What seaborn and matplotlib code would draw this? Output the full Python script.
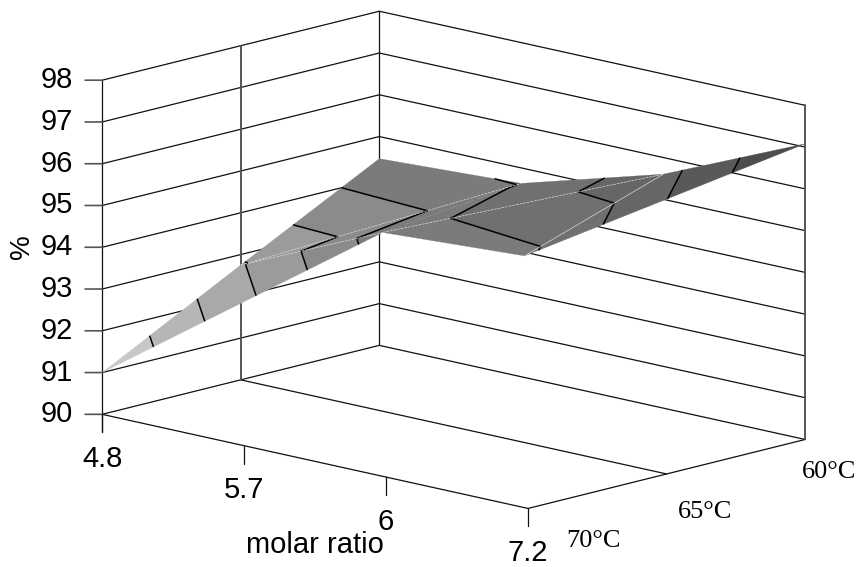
import numpy as np
import seaborn as sns
import matplotlib.pyplot as plt
import matplotlib.tri as mtri
from mpl_toolkits.mplot3d import proj3d
from mpl_toolkits.mplot3d.art3d import Poly3DCollection

molar_ratio = ["4.8", "5.7", "6", "7.2"]
temperature = ["70°C", "65°C", "60°C"]
# the surface only exists on part of the grid
percent_70 = [91.0, np.nan, np.nan, np.nan]
percent_65 = [92.75, 94.28, 94.47, np.nan]
percent_60 = [94.47, 94.63, 95.6, 97.08]
z_ticks = [90, 91, 92, 93, 94, 95, 96, 97, 98]
contour_levels = [91.6, 92.2, 92.8, 93.4, 94.0, 94.6, 95.2, 95.8, 96.4]
band_greys = ["#c8c8c8", "#b6b6b6", "#a9a9a9", "#9b9b9b", "#8b8b8b", "#7b7b7b", "#707070", "#666666", "#595959", "#4d4d4d"]
# mesh as (molar index, temperature index) corners
mesh = [((0, 0), (1, 1), (0, 1)), ((0, 1), (1, 2), (0, 2)), ((0, 1), (1, 1), (1, 2)),
        ((1, 1), (2, 2), (1, 2)), ((1, 1), (2, 1), (2, 2)), ((2, 1), (3, 2), (2, 2))]


def clip_band(tri_pts, low, high):
    # cut one triangle down to the part between two heights
    poly = tri_pts
    for level, sign in ((low, 1), (high, -1)):
        out = []
        for k in range(len(poly)):
            a, b = poly[k], poly[(k + 1) % len(poly)]
            da, db = sign * (a[2] - level), sign * (b[2] - level)
            if da >= 0:
                out.append(a)
            if da * db < 0:
                out.append(a + (b - a) * da / (da - db))
        poly = out
        if not poly:
            break
    return poly


def sideways(dx):
    # data offset that moves a point dx pixels straight across the screen
    return dx / 267.6, 0.907 * dx / 267.6


def label(x, y, z, text, **kw):
    # plain 2D text placed at the projected position of a 3D point
    xp, yp, _ = proj3d.proj_transform(x, y, z, ax.get_proj())
    ax.text2D(xp, yp, text, transform=ax.transData, **kw)


sns.set_theme(style="white")
fig = plt.figure(figsize=(8.59, 5.67), dpi=100)
ax = fig.add_axes([-8.5 / 859, -155 / 567, 900 / 859, 900 / 567], projection="3d", computed_zorder=False)
ax.set_proj_type("ortho")
ax.view_init(elev=13.56, azim=-46.7)
ax.set_box_aspect((585, 404, 343.6), zoom=0.852)
ax.set_axis_off()

nx, ny = len(molar_ratio), len(temperature)
xe, ye = nx - 1, ny - 1
zz = np.array([percent_70, percent_65, percent_60])

# walls and floor
line = dict(color="#111111", lw=0.9, zorder=1)
post = dict(color="#555555", lw=1.4, zorder=1)
for z in z_ticks:
    ax.plot([0, 0], [0, ye], [z, z], **line)
    ax.plot([0, xe], [ye, ye], [z, z], **line)
ax.plot([0, xe], [0, 0], [90, 90], **line)
ax.plot([xe, xe], [0, ye], [90, 90], **line)
ax.plot([0, xe], [1, 1], [90, 90], **line)
ax.plot([0, 0], [0, 0], [89.57, 98], **line)
ax.plot([0, 0], [1, 1], [90, 98], **post)
ax.plot([0, 0], [ye, ye], [90, 98], **line)
ax.plot([xe, xe], [ye, ye], [90, 98], **post)

# surface, flat grey between the contour heights
corners = sorted({c for t in mesh for c in t})
index = {c: k for k, c in enumerate(corners)}
px = np.array([c[0] for c in corners], dtype=float)
py = np.array([c[1] for c in corners], dtype=float)
pz = np.array([zz[c[1], c[0]] for c in corners])
tri = mtri.Triangulation(px, py, [[index[c] for c in t] for t in mesh])
pts = np.column_stack([px, py, pz])
edges = [0] + contour_levels + [99]
polys, colors = [], []
for t in tri.triangles:
    for b in range(len(edges) - 1):
        poly = clip_band(list(pts[t]), edges[b], edges[b + 1])
        if len(poly) > 2:
            polys.append(np.array(poly))
            colors.append(band_greys[b])
ax.add_collection3d(Poly3DCollection(polys, facecolors=colors, edgecolors=colors, linewidths=0.2, zorder=2))
ax.tricontour(tri, pz, levels=contour_levels, colors="black", linewidths=1.1, zorder=3)

# pale mesh lines
pale = dict(color="#d4d4d4", lw=0.5, zorder=4)
for a, b, style in [((0, 1), (1, 2), "--"), ((0, 1), (1, 1), "--"), ((1, 1), (2, 2), "--"), ((2, 1), (2, 2), "-")]:
    ax.plot([a[0], b[0]], [a[1], b[1]], [zz[a[1], a[0]], zz[b[1], b[0]]], ls=style, **pale)

ax.set_xlim(0, xe)
ax.set_ylim(0, ye)
ax.set_zlim(90, 98)

# ticks and labels
tick = dict(color="#555555", lw=1.2, zorder=1)
num = dict(family="Liberation Sans", fontsize=21, color="black")
for z in z_ticks:
    dx, dy = sideways(-17)
    ax.plot([0, dx], [0, dy], [z, z], **tick)
    dx, dy = sideways(-29)
    label(dx, dy, z, str(z), ha="right", va="center", **num)
for i, lab in enumerate(molar_ratio):
    ax.plot([i, i], [0, 0], [90, 89.57], color="#111111", lw=0.9, zorder=1)
    label(i, 0, 88.93, lab, ha="center", va="center", **num)
for j, (lab, shift, drop) in enumerate(zip(temperature, [38, 11, -3], [89.23, 89.1, 89.23])):
    dx, dy = sideways(shift)
    label(xe + dx, j + dy, drop, lab, ha="left", va="center", family="Liberation Serif", fontsize=19, color="black")

fig.text(22 / 859, 1 - 247 / 567, "%", rotation=90, ha="center", va="center", family="Liberation Sans", fontsize=20, color="black")
fig.text(315 / 859, 1 - 545 / 567, "molar ratio", ha="center", va="center", family="Liberation Sans", fontsize=21, color="black")

fig.savefig("out.png", dpi=100)
